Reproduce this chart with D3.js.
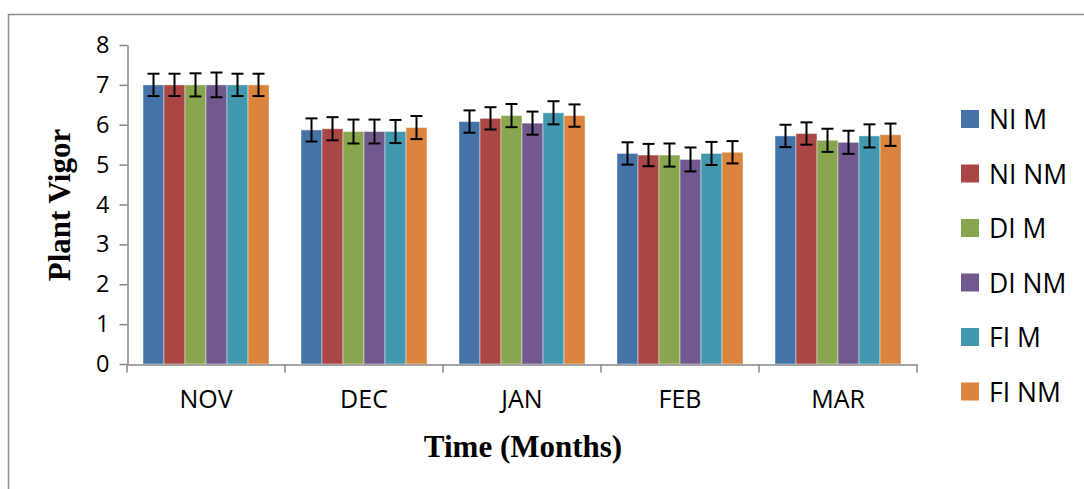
<!DOCTYPE html>
<html><head><meta charset="utf-8">
<script src="https://cdn.jsdelivr.net/npm/d3@7"></script>
<style>body{margin:0;background:#fff}svg{display:block}</style>
</head><body>
<svg id="c" width="1084" height="489"></svg>
<script>
const months = ["NOV","DEC","JAN","FEB","MAR"];
const seriesNames = ["NI M","NI NM","DI M","DI NM","FI M","FI NM"];
const niM  = [7.00,5.87,6.08,5.28,5.72];
const niNM = [7.00,5.90,6.16,5.24,5.78];
const diM  = [7.00,5.83,6.23,5.24,5.61];
const diNM = [7.00,5.83,6.04,5.13,5.56];
const fiM  = [7.00,5.83,6.30,5.28,5.72];
const fiNM = [7.00,5.93,6.23,5.31,5.75];
const errNiM  = [0.28,0.29,0.28,0.28,0.28];
const errNiNM = [0.28,0.29,0.28,0.28,0.28];
const errDiM  = [0.29,0.30,0.29,0.29,0.29];
const errDiNM = [0.31,0.30,0.29,0.30,0.29];
const errFiM  = [0.28,0.29,0.29,0.29,0.29];
const errFiNM = [0.28,0.29,0.28,0.28,0.28];
const yTicks = [0,1,2,3,4,5,6,7,8];
const colors = ["#4572A7","#AA4643","#89A54E","#71588F","#4198AF","#DB843D"];

const values = [niM,niNM,diM,diNM,fiM,fiNM];
const errors = [errNiM,errNiNM,errDiM,errDiNM,errFiM,errFiNM];

const svg = d3.select("#c");
// outer frame
svg.append("path").attr("d","M8.5,489 V14.5 H1084").attr("fill","none").attr("stroke","#8c8c8c").attr("stroke-width",1.5);

const x0 = d3.scaleBand().domain(months).range([127,917]).padding(0);
const x1 = d3.scaleBand().domain(seriesNames).range([16,142]).padding(0);
const y = d3.scaleLinear().domain([0,8]).range([364,45]);

const font = "'Open Sans', sans-serif";

// bars
seriesNames.forEach((s,si)=>{
  const g = svg.append("g");
  months.forEach((m,mi)=>{
    const v = values[si][mi];
    const bx = x0(m)+x1(s);
    g.append("rect").attr("x",bx).attr("y",y(v)).attr("width",x1.bandwidth()).attr("height",y(0)-y(v))
      .attr("fill",colors[si]).attr("stroke","rgba(255,255,255,0.45)").attr("stroke-width",1);
  });
});
// error bars
seriesNames.forEach((s,si)=>{
  months.forEach((m,mi)=>{
    const v = values[si][mi], e = errors[si][mi];
    const cx = x0(m)+x1(s)+x1.bandwidth()/2;
    const g = svg.append("g").attr("stroke","#000").attr("stroke-width",2);
    g.append("line").attr("x1",cx).attr("x2",cx).attr("y1",y(v+e)).attr("y2",y(v-e));
    g.append("line").attr("x1",cx-6).attr("x2",cx+6).attr("y1",y(v+e)).attr("y2",y(v+e));
    g.append("line").attr("x1",cx-6).attr("x2",cx+6).attr("y1",y(v-e)).attr("y2",y(v-e));
  });
});

// y axis
const ya = svg.append("g").attr("transform","translate(127.5,0)")
  .call(d3.axisLeft(y).tickValues(yTicks).tickSize(8).tickSizeOuter(0).tickPadding(10));
ya.select(".domain").attr("stroke","#868686").attr("stroke-width",1.5);
ya.selectAll(".tick line").attr("stroke","#868686").attr("stroke-width",1.5);
ya.selectAll(".tick text").attr("font-family",font).attr("font-size",23.5).attr("fill","#000");

// x axis
const xa = svg.append("g").attr("transform","translate(0,364.5)")
  .call(d3.axisBottom(x0).tickSize(0).tickPadding(26));
xa.select(".domain").attr("stroke","#868686").attr("stroke-width",1.5);
xa.selectAll(".tick text").attr("font-family",font).attr("font-size",25).attr("fill","#000");
const boundaries = months.map(m=>x0(m)).concat([x0.range()[1]]);
xa.selectAll(".sep").data(boundaries).enter().append("line")
  .attr("x1",d=>d).attr("x2",d=>d).attr("y1",0).attr("y2",8)
  .attr("stroke","#868686").attr("stroke-width",1.5);

// axis titles
svg.append("text").attr("x",523).attr("y",457).attr("text-anchor","middle")
  .attr("font-family","'Liberation Serif', 'Times New Roman', serif").attr("font-weight","bold")
  .attr("font-size",31).text("Time (Months)");
svg.append("text").attr("transform","translate(70,205) rotate(-90)").attr("text-anchor","middle")
  .attr("font-family","'Liberation Serif', 'Times New Roman', serif").attr("font-weight","bold")
  .attr("font-size",31).text("Plant Vigor");

// legend
const lg = svg.append("g");
seriesNames.forEach((s,i)=>{
  const cy = 119 + i*54.5;
  lg.append("rect").attr("x",961).attr("y",cy-9).attr("width",18).attr("height",18).attr("fill",colors[i]);
  lg.append("text").attr("x",989).attr("y",cy+10).attr("font-family",font).attr("font-size",26.5).attr("fill","#000").text(s);
});
</script>
</body></html>
